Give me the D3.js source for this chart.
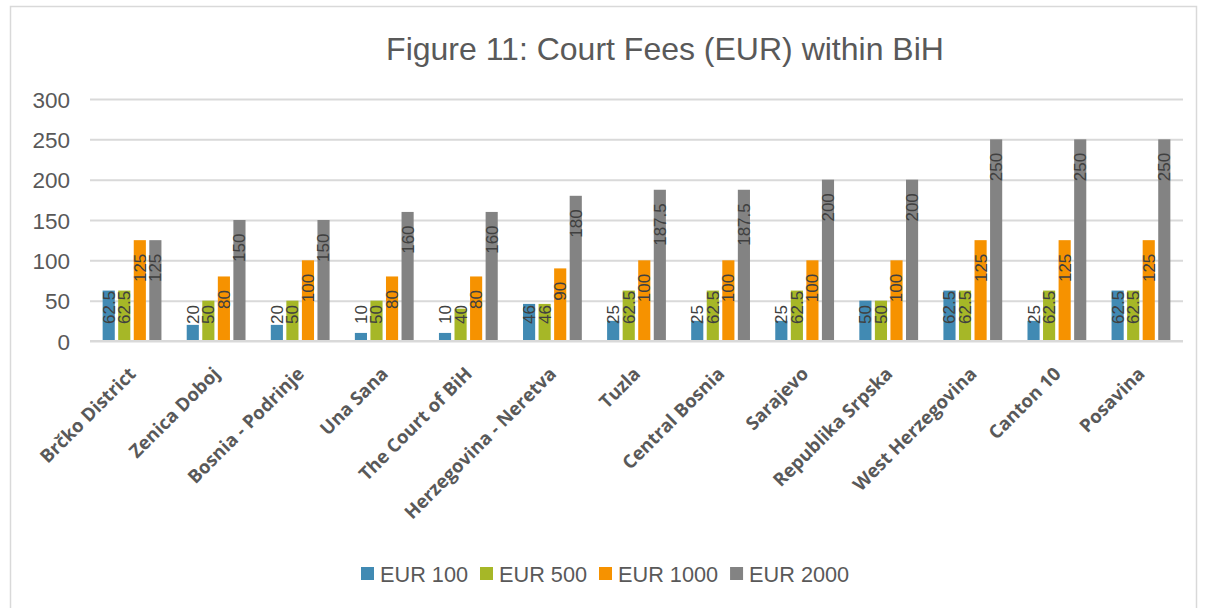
<!DOCTYPE html>
<html>
<head>
<meta charset="utf-8">
<script src="https://cdn.jsdelivr.net/npm/d3@7"></script>
<style>
  body { margin: 0; background: #fff; }
  svg { display: block; }
</style>
</head>
<body>
<div id="chart"></div>
<script>
// chart data
var categories = ["Brčko District", "Zenica Doboj", "Bosnia - Podrinje", "Una Sana", "The Court of BiH",
  "Herzegovina - Neretva", "Tuzla", "Central Bosnia", "Sarajevo", "Republika Srpska",
  "West Herzegovina", "Canton 10", "Posavina"];
var seriesNames = ["EUR 100", "EUR 500", "EUR 1000", "EUR 2000"];
var eur100 = [62.5, 20, 20, 10, 10, 46, 25, 25, 25, 50, 62.5, 25, 62.5];
var eur500 = [62.5, 50, 50, 50, 40, 46, 62.5, 62.5, 62.5, 50, 62.5, 62.5, 62.5];
var eur1000 = [125, 80, 100, 80, 80, 90, 100, 100, 100, 100, 125, 125, 125];
var eur2000 = [125, 150, 150, 160, 160, 180, 187.5, 187.5, 200, 200, 250, 250, 250];
var yTicks = [0, 50, 100, 150, 200, 250, 300];
var colors = ["#418AB3", "#A6B727", "#F69200", "#838383"];
var title = "Figure 11: Court Fees (EUR) within BiH";

var seriesValues = [eur100, eur500, eur1000, eur2000];

var W = 1206, H = 608;
var svg = d3.select("#chart").append("svg")
  .attr("width", W)
  .attr("height", H);

// chart border
svg.append("rect")
  .attr("x", 10.5).attr("y", 6.5)
  .attr("width", 1186).attr("height", 610)
  .attr("fill", "#fff")
  .attr("stroke", "#d9d9d9")
  .attr("stroke-width", 1.5);

svg.append("text")
  .attr("x", 665).attr("y", 60)
  .attr("text-anchor", "middle")
  .style("font-family", "Arial, 'Liberation Sans', sans-serif")
  .style("font-size", "32px")
  .attr("fill", "#595959")
  .text(title);

var plotLeft = 90, plotRight = 1183, plotTop = 99, plotBottom = 341;

var x0 = d3.scaleBand()
  .domain(categories)
  .range([plotLeft, plotRight])
  .paddingInner(0.26)
  .paddingOuter(0.13);

var x1 = d3.scaleBand()
  .domain(seriesNames)
  .range([0, x0.bandwidth()])
  .paddingInner(0.22)
  .paddingOuter(0.11);

var y = d3.scaleLinear()
  .domain([0, 300])
  .range([plotBottom, plotTop]);

// gridlines + y labels
var yAxis = d3.axisLeft(y)
  .tickValues(yTicks)
  .tickSize(-(plotRight - plotLeft))
  .tickPadding(20);

var gy = svg.append("g")
  .attr("transform", "translate(" + plotLeft + ",0)")
  .call(yAxis);
gy.select(".domain").remove();
gy.selectAll(".tick line")
  .attr("stroke", "#d9d9d9")
  .attr("stroke-width", 2);
gy.selectAll(".tick text")
  .attr("fill", "#595959")
  .attr("dy", "0.36em")
  .style("font-family", "Arial, 'Liberation Sans', sans-serif")
  .style("font-size", "22.5px");

// bars
var groups = svg.selectAll(".grp")
  .data(categories)
  .enter().append("g")
  .attr("class", "grp")
  .attr("transform", function (d) { return "translate(" + x0(d) + ",0)"; });

groups.selectAll("rect")
  .data(function (d, i) {
    return seriesNames.map(function (s, j) { return { s: s, j: j, v: seriesValues[j][i] }; });
  })
  .enter().append("rect")
  .attr("x", function (d) { return x1(d.s); })
  .attr("width", x1.bandwidth())
  .attr("y", function (d) { return y(d.v); })
  .attr("height", function (d) { return plotBottom - y(d.v); })
  .attr("fill", function (d) { return colors[d.j]; });

// data labels (inside end, kept above the base)
groups.selectAll(".lbl")
  .data(function (d, i) {
    return seriesNames.map(function (s, j) { return { s: s, j: j, v: seriesValues[j][i] }; });
  })
  .enter().append("text")
  .attr("class", "lbl")
  .style("font-family", "Arial, 'Liberation Sans', sans-serif")
  .style("font-size", "17px")
  .attr("fill", "#404040")
  .attr("text-anchor", "end")
  .attr("dy", "0.35em")
  .text(function (d) { return d.v; })
  .attr("transform", function (d) {
    var len = this.getComputedTextLength();
    var top = Math.min(y(d.v) + 13.5, plotBottom - 17 - len);
    var cx = x1(d.s) + x1.bandwidth() / 2;
    return "translate(" + cx + "," + top + ") rotate(-90)";
  });

// axis line
svg.append("line")
  .attr("x1", plotLeft).attr("x2", plotRight)
  .attr("y1", plotBottom).attr("y2", plotBottom)
  .attr("stroke", "#d9d9d9")
  .attr("stroke-width", 2);

// category labels
svg.selectAll(".cat")
  .data(categories)
  .enter().append("text")
  .attr("class", "cat")
  .attr("text-anchor", "end")
  .style("font-family", "'Open Sans', sans-serif")
  .style("font-weight", "700")
  .style("font-size", "18.5px")
  .attr("fill", "#595959")
  .attr("transform", function (d) {
    var cx = x0(d) + x0.bandwidth() / 2;
    return "translate(" + (cx + 5) + "," + 375 + ") rotate(-45)";
  })
  .text(function (d) { return d; });

// legend
var legend = svg.append("g").attr("transform", "translate(361,0)");
var lx = 0;
seriesNames.forEach(function (s, j) {
  legend.append("rect")
    .attr("x", lx).attr("y", 567)
    .attr("width", 13).attr("height", 13)
    .attr("fill", colors[j]);
  var t = legend.append("text")
    .attr("x", lx + 19).attr("y", 582)
    .style("font-family", "Arial, 'Liberation Sans', sans-serif")
    .style("font-size", "21.7px")
    .attr("fill", "#595959")
    .text(s);
  lx += 19 + t.node().getComputedTextLength() + 12;
});
</script>
</body>
</html>
